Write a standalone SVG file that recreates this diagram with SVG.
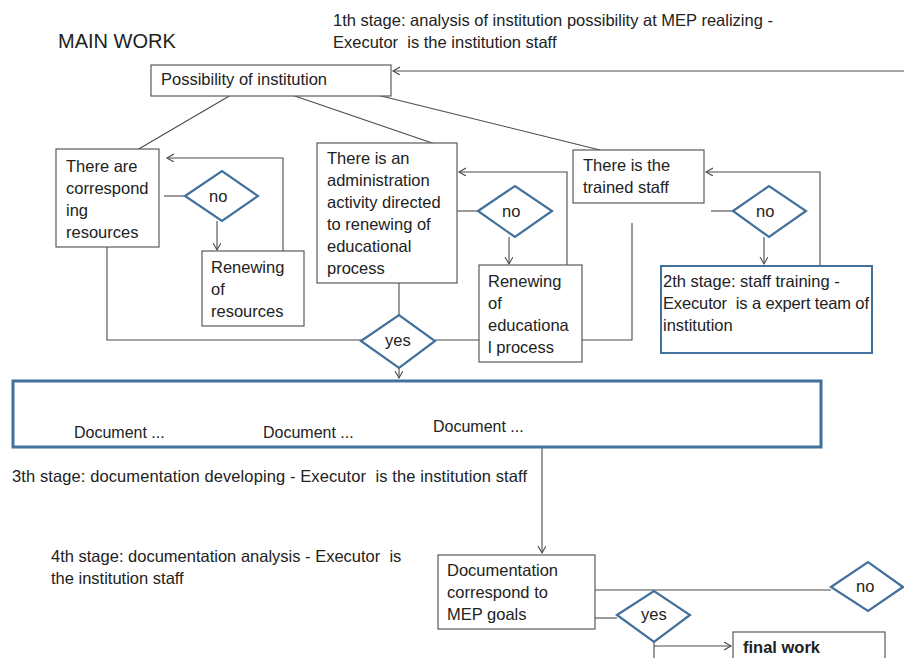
<svg xmlns="http://www.w3.org/2000/svg" width="904" height="658" viewBox="0 0 904 658">
<defs>
<style>
text{font-family:"Liberation Sans",Arial,sans-serif;fill:#222;}
.t{font-size:16.5px;}
.b{font-size:16px;}
.h{font-size:20px;}
.box{fill:#fff;stroke:#5a5a5a;stroke-width:1.2;}
.blue{fill:#fff;stroke:#41719c;stroke-width:2;}
.big{fill:#fff;stroke:#41719c;stroke-width:3;}
.dia{fill:#fff;stroke:#41719c;stroke-width:2.2;}
.c{fill:none;stroke:#4a4a4a;stroke-width:1.1;}
.pre{white-space:pre;}
</style>
<marker id="ah" markerWidth="10" markerHeight="10" refX="7" refY="4" orient="auto" markerUnits="userSpaceOnUse">
<path d="M0,0 L7,4 L0,8" fill="none" stroke="#4a4a4a" stroke-width="1.1"/>
</marker>
</defs>
<rect width="904" height="658" fill="#fff"/>

<g id="labels">
<text class="h" x="58" y="48">MAIN WORK</text>
<text class="t pre" x="333" y="26" xml:space="preserve">1th stage: analysis of institution possibility at MEP realizing -</text>
<text class="t pre" x="333" y="48" xml:space="preserve">Executor  is the institution staff</text>
<text class="t pre" x="12" y="482" xml:space="preserve" textLength="515">3th stage: documentation developing - Executor  is the institution staff</text>
<text class="t pre" x="51" y="562" xml:space="preserve">4th stage: documentation analysis - Executor  is</text>
<text class="t" x="51" y="584">the institution staff</text>
</g>

<g id="connectors">
<line class="c" x1="904" y1="71" x2="393" y2="71" marker-end="url(#ah)"/>
<line class="c" x1="231" y1="95" x2="137" y2="150"/>
<line class="c" x1="289" y1="94" x2="435" y2="144"/>
<line class="c" x1="369" y1="93" x2="600" y2="150"/>
<line class="c" x1="164" y1="196" x2="185" y2="196"/>
<line class="c" x1="217" y1="221" x2="217" y2="250" marker-end="url(#ah)"/>
<polyline class="c" points="283,251 283,158 167,158" marker-end="url(#ah)"/>
<polyline class="c" points="107,208 107,340 361,340"/>
<line class="c" x1="457" y1="211" x2="478" y2="211"/>
<line class="c" x1="509" y1="237" x2="509" y2="264" marker-end="url(#ah)"/>
<polyline class="c" points="567,265 567,172 459,172" marker-end="url(#ah)"/>
<line class="c" x1="399" y1="252" x2="399" y2="315"/>
<line class="c" x1="399" y1="368" x2="399" y2="378" marker-end="url(#ah)"/>
<polyline class="c" points="435,340 632,340 632,223"/>
<line class="c" x1="711" y1="211" x2="733" y2="211"/>
<line class="c" x1="764" y1="237" x2="764" y2="264" marker-end="url(#ah)"/>
<polyline class="c" points="820,266 820,172 706,172" marker-end="url(#ah)"/>
<line class="c" x1="542" y1="447" x2="542" y2="553" marker-end="url(#ah)"/>
<line class="c" x1="595" y1="590" x2="831" y2="590"/>
<line class="c" x1="595" y1="618" x2="617" y2="618"/>
<line class="c" x1="654" y1="642" x2="654" y2="658"/>
<line class="c" x1="654" y1="646" x2="731" y2="646" marker-end="url(#ah)"/>
</g>

<g id="possibility">
<rect class="box" x="151" y="65" width="240" height="31"/>
<text class="t" x="161" y="85">Possibility of institution</text>
</g>

<g id="resources">
<rect class="box" x="56" y="149" width="103" height="98"/>
<text class="t" x="66" y="172">There are</text>
<text class="t" x="66" y="194">correspond</text>
<text class="t" x="66" y="216">ing</text>
<text class="t" x="66" y="238">resources</text>
</g>

<g id="no1">
<polygon class="dia" points="185,196 222,171 258,196 222,221"/>
<text class="t" x="209" y="202">no</text>
</g>

<g id="renew-resources">
<rect class="box" x="202" y="251" width="102" height="75"/>
<text class="t" x="211" y="273">Renewing</text>
<text class="t" x="211" y="295">of</text>
<text class="t" x="211" y="317">resources</text>
</g>

<g id="admin">
<rect class="box" x="317" y="143" width="140" height="140"/>
<text class="t" x="327" y="164">There is an</text>
<text class="t" x="327" y="186">administration</text>
<text class="t" x="327" y="208">activity directed</text>
<text class="t" x="327" y="230">to renewing of</text>
<text class="t" x="327" y="252">educational</text>
<text class="t" x="327" y="274">process</text>
</g>

<g id="no2">
<polygon class="dia" points="478,211 515,186 552,211 515,237"/>
<text class="t" x="502" y="217">no</text>
</g>

<g id="renew-process">
<rect class="box" x="479" y="265" width="103" height="97"/>
<text class="t" x="488" y="287">Renewing</text>
<text class="t" x="488" y="309">of</text>
<text class="t" x="488" y="331">educationa</text>
<text class="t" x="488" y="353">l process</text>
</g>

<g id="yes1">
<polygon class="dia" points="361,341 399,315 435,341 399,368"/>
<text class="t" x="385" y="346">yes</text>
</g>

<g id="staff">
<rect class="box" x="573" y="150" width="131" height="53"/>
<text class="t" x="583" y="171">There is the</text>
<text class="t" x="583" y="193">trained staff</text>
</g>

<g id="no3">
<polygon class="dia" points="733,211 769,186 806,211 769,237"/>
<text class="t" x="756" y="217">no</text>
</g>

<g id="stage2">
<rect class="blue" x="661" y="266" width="211" height="87"/>
<text class="t pre" x="663" y="287" xml:space="preserve">2th stage: staff training -</text>
<text class="t pre" x="663" y="309" xml:space="preserve" textLength="206">Executor  is a expert team of</text>
<text class="t" x="663" y="331">institution</text>
</g>

<g id="documents">
<rect class="big" x="13" y="381" width="808" height="66"/>
<text class="b" x="74" y="438">Document ...</text>
<text class="b" x="263" y="438">Document ...</text>
<text class="b" x="433" y="432">Document ...</text>
</g>

<g id="documentation">
<rect class="box" x="438" y="555" width="157" height="74"/>
<text class="t" x="447" y="576">Documentation</text>
<text class="t" x="447" y="598">correspond to</text>
<text class="t" x="447" y="620">MEP goals</text>
</g>

<g id="yes2">
<polygon class="dia" points="617,615 654,591 690,615 654,642"/>
<text class="t" x="641" y="620">yes</text>
</g>

<g id="no4">
<polygon class="dia" points="831,587 868,562 903,587 868,611"/>
<text class="t" x="856" y="592">no</text>
</g>

<g id="final">
<rect class="box" x="733" y="632" width="152" height="40"/>
<text class="t" x="743" y="653" font-weight="bold">final work</text>
</g>
</svg>
